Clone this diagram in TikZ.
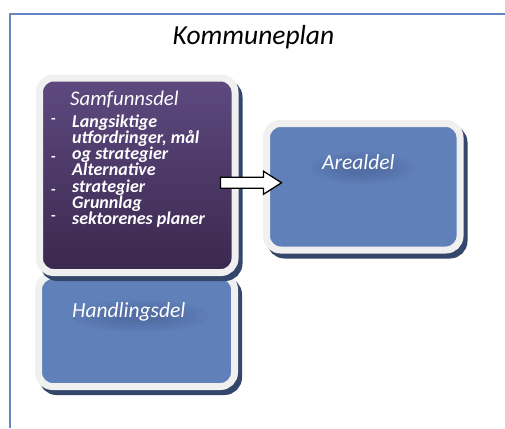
\documentclass[tikz,border=0pt]{standalone}
\usepackage{fontspec}
\setmainfont{Carlito}
\usetikzlibrary{calc}

\definecolor{framec}{RGB}{100,135,196}
\definecolor{rimc}{RGB}{240,240,240}
\definecolor{dropc}{RGB}{52,70,106}
\definecolor{bluec}{RGB}{96,128,186}
\definecolor{purpletop}{RGB}{94,74,128}
\definecolor{purplebot}{RGB}{58,40,78}
\definecolor{glowc}{RGB}{50,68,112}

\tikzset{
  panel/.style={rectangle, inner sep=0pt, draw=rimc, line width=7pt,
    rounded corners=14pt,
    preaction={draw=dropc, fill=dropc, line width=7pt,
      transform canvas={xshift=4pt, yshift=-5pt}}},
  bluepanel/.style={panel, fill=bluec},
  purplepanel/.style={panel, top color=purpletop, bottom color=purplebot},
  heading/.style={text=white, inner sep=0pt, anchor=base west,
    font=\fontsize{21.5}{24}\selectfont\itshape},
  itemline/.style={text=white, inner sep=0pt, anchor=base west,
    text height=11pt, text depth=3pt,
    font=\fontsize{18}{20}\selectfont\bfseries\itshape},
  dashmark/.style={text=white, inner sep=0pt, anchor=base west,
    text height=5pt, text depth=0pt,
    font=\fontsize{15}{18}\selectfont\bfseries},
  blockarrow/.style={draw=black, fill=white, line width=1.3pt, line join=miter},
  glow/.style={fill=glowc, opacity=0.06},
}

\begin{document}
\begin{tikzpicture}[x=1pt, y=-1pt]
  \useasboundingbox (0,0) rectangle (505,428);
  \fill[white] (0,0) rectangle (505,428);

  % outer frame, open at the right and bottom
  \coordinate (fbl) at (10,428);
  \coordinate (ftl) at (10,14);
  \coordinate (ftr) at (505,14);
  \draw[framec, line width=2pt] (fbl) -- (ftl) -- (ftr);

  \node[anchor=base, inner sep=0pt, font=\fontsize{27.5}{30}\selectfont\itshape]
    (title) at (253.5,45) {Kommuneplan};

  % panels (lower one first so the upper one overlaps it)
  \node[bluepanel, minimum width=196pt, minimum height=111pt]
    (handl) at (136.5,331) {};
  \node[purplepanel, minimum width=195.5pt, minimum height=194.5pt]
    (samf) at (137.25,175.25) {};
  \node[bluepanel, minimum width=193.5pt, minimum height=126.5pt]
    (areal) at (363.25,186.75) {};

  % soft dark halo behind the panel headings
  \foreach \r in {1,0.85,0.7,0.55,0.4} {
    \fill[glow] (362,168) ellipse ({52*\r} and {16*\r});
    \fill[glow] (140,316) ellipse ({68*\r} and {16*\r});
  }

  \node[heading] (arealtxt) at (322,169) {Arealdel};
  \node[heading] (handltxt) at (72,317) {Handlingsdel};
  \node[heading, font=\fontsize{20.8}{24}\selectfont\itshape]
    (samftxt) at (70,105) {Samfunnsdel};

  % list inside the upper panel
  \node[itemline] (l1) at (72,127) {Langsiktige};
  \node[itemline] (l2) at (72,143.3) {utfordringer, mål};
  \node[itemline] (l3) at (72,159.6) {og strategier};
  \node[itemline] (l4) at (72,175.9) {Alternative};
  \node[itemline] (l5) at (72,192.2) {strategier};
  \node[itemline] (l6) at (72,208.5) {Grunnlag};
  \node[itemline] (l7) at (72,224.8) {sektorenes planer};

  \node[dashmark] (d1) at (51,123) {-};
  \node[dashmark] (d2) at (51,161) {-};
  \node[dashmark] (d3) at (51,194) {-};
  \node[dashmark] (d4) at (51,220) {-};

  % block arrow from the upper panel into Arealdel
  \coordinate (tail) at ($(samf.east)+(-18,7.5)$);
  \coordinate (tip) at ($(areal.west |- tail)+(18.5,0)$);
  \draw[blockarrow]
    ($(tail)+(0,-5.5)$) -- ($(tip)+(-18,-5.5)$) -- ($(tip)+(-18,-11.5)$)
    -- (tip) -- ($(tip)+(-18,11.5)$) -- ($(tip)+(-18,5.5)$)
    -- ($(tail)+(0,5.5)$) -- cycle;
\end{tikzpicture}
\end{document}
